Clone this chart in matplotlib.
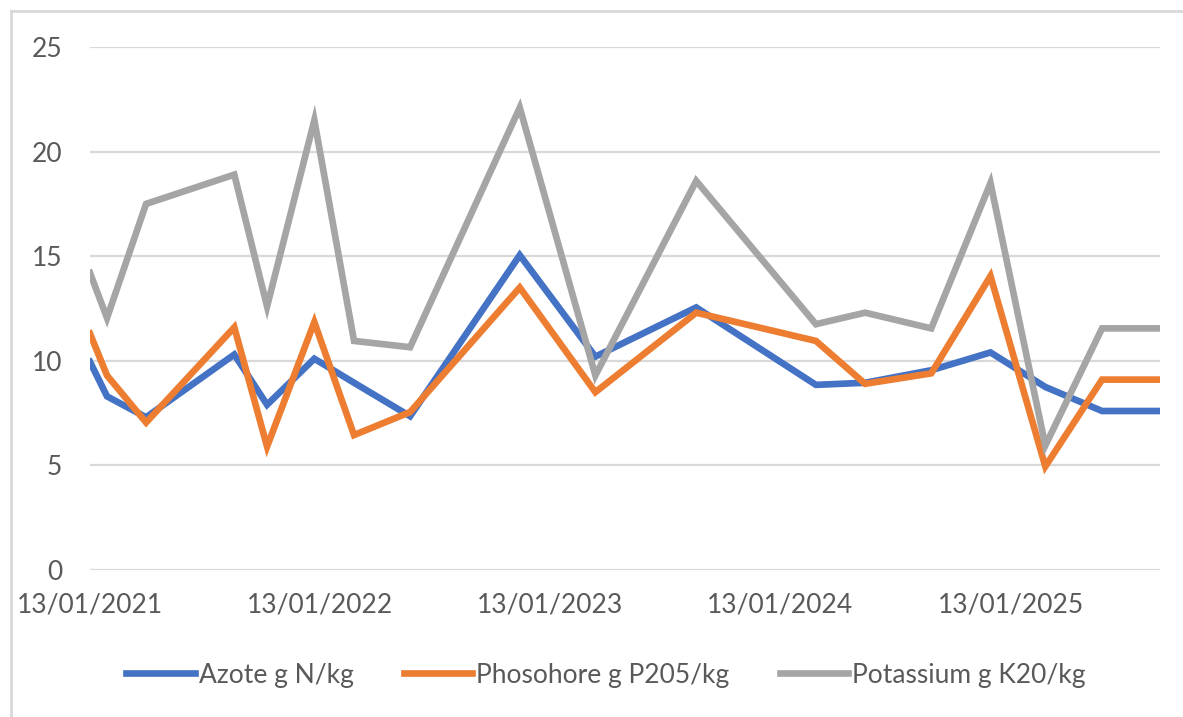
import matplotlib
matplotlib.use('Agg')
import matplotlib.pyplot as plt
import matplotlib.dates as mdates
import pandas as pd

plt.rcParams['font.family'] = ['Lato', 'DejaVu Sans']

dates = ['2021-01-13', '2021-02-09', '2021-04-12', '2021-08-30', '2021-10-21',
         '2022-01-04', '2022-03-08', '2022-06-05', '2022-11-26', '2023-03-26',
         '2023-09-02', '2024-03-10', '2024-05-27', '2024-09-09', '2024-12-12',
         '2025-03-09', '2025-06-07', '2025-09-07']
azote = [9.95, 8.3, 7.3, 10.3, 7.9, 10.1, 8.95, 7.35, 15.05, 10.2,
         12.55, 8.85, 8.95, 9.55, 10.4, 8.75, 7.6, 7.6]
phosphore = [11.3, 9.3, 7.05, 11.6, 5.9, 11.85, 6.45, 7.55, 13.5, 8.5,
             12.3, 10.95, 8.9, 9.4, 14.05, 4.95, 9.1, 9.1]
potassium = [14.2, 12.05, 17.5, 18.9, 12.6, 21.5, 10.95, 10.65, 22.1, 9.3,
             18.6, 11.75, 12.3, 11.55, 18.5, 5.95, 11.55, 11.55]
labels = ['Azote g N/kg', 'Phosohore g P205/kg', 'Potassium g K20/kg']
colors = ['#4472C4', '#ED7D31', '#A5A5A5']

x = pd.to_datetime(dates)
txt = '#595959'

fig = plt.figure(figsize=(11.83, 7.17), dpi=100)
ax = fig.add_axes([90/1183, 1-570/717, (1160-90)/1183, (570-47)/717])

for vals, lab, c in zip([azote, phosphore, potassium], labels, colors):
    ax.plot(x, vals, color=c, lw=4.8, label=lab, solid_joinstyle='miter')

ax.set_ylim(0, 25)
ax.set_yticks(range(0, 26, 5))
ax.set_xlim(x[0], x[-1])
ax.set_xticks(pd.to_datetime(['2021-01-13', '2022-01-13', '2023-01-13',
                              '2024-01-13', '2025-01-13']))
ax.xaxis.set_major_formatter(mdates.DateFormatter('%d/%m/%Y'))
ax.grid(axis='y', color='#d9d9d9', lw=1.6)
ax.set_axisbelow(True)
for s in ax.spines.values():
    s.set_visible(False)
ax.tick_params(axis='both', length=0, labelsize=19, colors=txt)
ax.tick_params(axis='y', pad=20)
ax.tick_params(axis='x', pad=16)

leg = fig.legend(loc='center', bbox_to_anchor=(606/1183, 1-675/717), ncol=3,
                 frameon=False, fontsize=19, handlelength=2.6,
                 handletextpad=0.15, columnspacing=1.9)
for t in leg.get_texts():
    t.set_color(txt)

# chart area border (top and left only visible in the crop)
fig.add_artist(plt.Line2D([11/1183, 1], [1-11/717, 1-11/717], color='#d9d9d9', lw=2))
fig.add_artist(plt.Line2D([11/1183, 11/1183], [0, 1-11/717], color='#d9d9d9', lw=2))

fig.savefig('out.png', dpi=100)
